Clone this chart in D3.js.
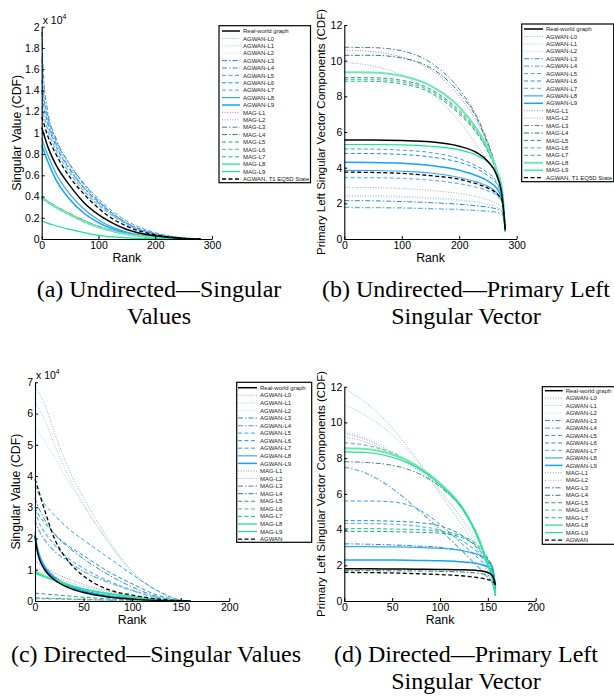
<!DOCTYPE html>
<html>
<head>
<meta charset="utf-8">
<script src="https://cdn.jsdelivr.net/npm/d3@7"></script>
<style>
  body { margin: 0; background: #fff; }
  svg { display: block; }
</style>
</head>
<body>
<div id="fig"></div>
<script>

// legend entries, same order in every panel
var seriesNames = ["Real-world graph", "AGWAN-L0", "AGWAN-L1", "AGWAN-L2", "AGWAN-L3", "AGWAN-L4",
    "AGWAN-L5", "AGWAN-L6", "AGWAN-L7", "AGWAN-L8", "AGWAN-L9", "MAG-L1", "MAG-L2", "MAG-L3",
    "MAG-L4", "MAG-L5", "MAG-L6", "MAG-L7", "MAG-L8", "MAG-L9", "AGWAN, T1 EQ5D State"];
var seriesNamesDirected = seriesNames.slice(0, 20).concat(["AGWAN"]);

// (a) undirected singular values (x 10^4)
var ranksA = [0, 3, 10, 25, 50, 75, 100, 125, 150, 200, 250, 280];
var valuesA = [
    [1.05, 1.0, 0.88, 0.7, 0.5, 0.34, 0.23, 0.15, 0.09, 0.03, 0.005, 0],
    [1.3, 1.25, 1.12, 0.92, 0.68, 0.5, 0.36, 0.24, 0.15, 0.05, 0.01, 0],
    [1.22, 1.18, 1.06, 0.87, 0.64, 0.47, 0.33, 0.22, 0.14, 0.045, 0.008, 0],
    [1.18, 1.13, 1.01, 0.83, 0.61, 0.44, 0.31, 0.21, 0.13, 0.04, 0.007, 0],
    [1.95, 1.55, 1.22, 0.95, 0.7, 0.51, 0.36, 0.24, 0.15, 0.05, 0.01, 0],
    [1.7, 1.4, 1.15, 0.9, 0.66, 0.48, 0.34, 0.23, 0.14, 0.045, 0.008, 0],
    [1.5, 1.35, 1.17, 0.93, 0.7, 0.52, 0.38, 0.26, 0.17, 0.06, 0.01, 0],
    [1.4, 1.28, 1.1, 0.88, 0.65, 0.48, 0.35, 0.24, 0.15, 0.05, 0.009, 0],
    [1.25, 1.18, 1.04, 0.84, 0.62, 0.45, 0.32, 0.22, 0.14, 0.045, 0.008, 0],
    [0.95, 0.9, 0.8, 0.62, 0.42, 0.28, 0.18, 0.11, 0.065, 0.02, 0.003, 0],
    [0.88, 0.84, 0.74, 0.56, 0.37, 0.24, 0.155, 0.095, 0.055, 0.015, 0.002, 0],
    [0.4, 0.39, 0.36, 0.31, 0.24, 0.175, 0.12, 0.08, 0.05, 0.015, 0.002, 0],
    [0.39, 0.38, 0.355, 0.305, 0.235, 0.17, 0.118, 0.078, 0.048, 0.014, 0.002, 0],
    [0.4, 0.39, 0.36, 0.31, 0.24, 0.175, 0.12, 0.08, 0.05, 0.015, 0.002, 0],
    [0.39, 0.38, 0.355, 0.3, 0.23, 0.165, 0.115, 0.075, 0.046, 0.013, 0.002, 0],
    [0.38, 0.37, 0.345, 0.295, 0.225, 0.16, 0.11, 0.072, 0.044, 0.012, 0.002, 0],
    [0.39, 0.38, 0.35, 0.3, 0.23, 0.165, 0.115, 0.075, 0.046, 0.013, 0.002, 0],
    [0.38, 0.37, 0.345, 0.295, 0.225, 0.16, 0.11, 0.072, 0.044, 0.012, 0.002, 0],
    [0.39, 0.38, 0.35, 0.3, 0.23, 0.165, 0.112, 0.074, 0.045, 0.013, 0.002, 0],
    [0.17, 0.165, 0.15, 0.125, 0.09, 0.06, 0.035, 0.02, 0.01, 0.002, 0, 0],
    [1.15, 1.1, 0.98, 0.8, 0.58, 0.42, 0.29, 0.19, 0.12, 0.04, 0.007, 0]
];

// (b) undirected primary left singular vector
var ranksB = [0, 50, 100, 150, 200, 230, 250, 265, 275, 280];
var valuesB = [
    [5.55, 5.55, 5.52, 5.45, 5.2, 4.85, 4.35, 3.6, 2.3, 0.5],
    [2.9, 2.88, 2.83, 2.72, 2.55, 2.38, 2.2, 2.0, 1.7, 0.5],
    [2.45, 2.44, 2.4, 2.32, 2.2, 2.08, 1.95, 1.8, 1.55, 0.5],
    [2.38, 2.37, 2.33, 2.26, 2.15, 2.05, 1.92, 1.78, 1.5, 0.5],
    [2.15, 2.14, 2.1, 2.04, 1.95, 1.86, 1.78, 1.68, 1.5, 0.5],
    [1.77, 1.76, 1.74, 1.7, 1.65, 1.6, 1.55, 1.5, 1.4, 0.5],
    [5.05, 5.04, 4.98, 4.85, 4.5, 4.1, 3.7, 3.2, 2.3, 0.5],
    [4.8, 4.79, 4.74, 4.6, 4.3, 3.95, 3.55, 3.1, 2.2, 0.5],
    [3.45, 3.44, 3.4, 3.3, 3.1, 2.9, 2.7, 2.45, 2.0, 0.5],
    [3.85, 3.84, 3.8, 3.7, 3.45, 3.2, 2.95, 2.6, 2.1, 0.5],
    [4.3, 4.29, 4.25, 4.12, 3.85, 3.55, 3.25, 2.85, 2.2, 0.5],
    [10.6, 10.5, 10.2, 9.5, 8.0, 6.6, 5.3, 3.9, 2.6, 0.4],
    [9.9, 9.7, 9.2, 8.2, 6.6, 5.3, 4.3, 3.5, 2.5, 0.4],
    [10.75, 10.73, 10.55, 9.9, 8.4, 6.9, 5.4, 3.9, 2.6, 0.4],
    [10.3, 10.3, 10.15, 9.6, 8.2, 6.8, 5.3, 3.9, 2.6, 0.4],
    [9.05, 9.04, 8.9, 8.4, 7.2, 6.1, 5.0, 3.8, 2.6, 0.4],
    [8.95, 8.94, 8.8, 8.3, 7.1, 6.0, 4.95, 3.8, 2.6, 0.4],
    [8.85, 8.84, 8.7, 8.2, 7.0, 5.95, 4.9, 3.75, 2.6, 0.4],
    [9.35, 9.34, 9.15, 8.6, 7.4, 6.2, 5.1, 3.9, 2.7, 0.4],
    [5.3, 5.3, 5.28, 5.2, 5.0, 4.7, 4.3, 3.6, 2.4, 0.4],
    [3.75, 3.73, 3.68, 3.55, 3.35, 3.1, 2.85, 2.55, 2.1, 0.6]
];

// (c) directed singular values (x 10^4)
var ranksC = [0, 2, 5, 10, 20, 35, 50, 75, 100, 125, 150, 160];
var valuesC = [
    [2.1, 1.65, 1.3, 1.0, 0.68, 0.42, 0.27, 0.13, 0.06, 0.02, 0.003, 0],
    [6.9, 6.8, 6.6, 6.3, 5.4, 4.2, 3.3, 2.0, 0.95, 0.35, 0.02, 0],
    [6.4, 6.3, 6.1, 5.8, 5.0, 3.95, 3.1, 1.9, 0.9, 0.33, 0.02, 0],
    [5.6, 5.5, 5.35, 5.1, 4.6, 3.8, 3.05, 1.9, 0.95, 0.35, 0.03, 0],
    [3.3, 3.1, 2.9, 2.6, 2.15, 1.7, 1.35, 0.85, 0.45, 0.15, 0.01, 0],
    [2.6, 2.4, 2.2, 1.95, 1.6, 1.25, 0.95, 0.6, 0.33, 0.12, 0.01, 0],
    [3.7, 3.55, 3.35, 3.1, 2.75, 2.3, 1.95, 1.4, 0.85, 0.35, 0.03, 0],
    [3.0, 2.85, 2.7, 2.5, 2.15, 1.75, 1.45, 0.95, 0.55, 0.2, 0.02, 0],
    [2.9, 2.7, 2.45, 2.2, 1.8, 1.35, 1.05, 0.65, 0.35, 0.12, 0.01, 0],
    [2.2, 1.8, 1.45, 1.12, 0.78, 0.5, 0.33, 0.17, 0.08, 0.03, 0.004, 0],
    [2.05, 1.7, 1.38, 1.06, 0.74, 0.48, 0.31, 0.16, 0.075, 0.025, 0.003, 0],
    [1.3, 1.25, 1.18, 1.08, 0.9, 0.7, 0.53, 0.32, 0.16, 0.06, 0.005, 0],
    [1.1, 1.06, 1.0, 0.92, 0.78, 0.6, 0.46, 0.28, 0.14, 0.05, 0.004, 0],
    [0.9, 0.88, 0.84, 0.78, 0.66, 0.5, 0.38, 0.22, 0.11, 0.04, 0.003, 0],
    [0.1, 0.098, 0.095, 0.09, 0.08, 0.065, 0.05, 0.03, 0.015, 0.005, 0, 0],
    [0.25, 0.245, 0.24, 0.225, 0.2, 0.16, 0.12, 0.07, 0.03, 0.01, 0, 0],
    [0.08, 0.078, 0.076, 0.072, 0.065, 0.053, 0.042, 0.025, 0.012, 0.004, 0, 0],
    [0.9, 0.88, 0.85, 0.78, 0.66, 0.5, 0.37, 0.23, 0.12, 0.045, 0.004, 0],
    [0.95, 0.92, 0.88, 0.8, 0.68, 0.52, 0.38, 0.24, 0.13, 0.05, 0.005, 0],
    [0.88, 0.86, 0.83, 0.77, 0.66, 0.51, 0.38, 0.24, 0.13, 0.05, 0.005, 0],
    [3.9, 3.7, 3.4, 2.9, 2.0, 1.25, 0.8, 0.37, 0.19, 0.07, 0.01, 0]
];

// (d) directed primary left singular vector
var ranksD = [0, 25, 50, 75, 100, 125, 140, 150, 155, 158];
var valuesD = [
    [1.8, 1.8, 1.79, 1.78, 1.77, 1.75, 1.7, 1.6, 1.4, 0.9],
    [11.9, 11.0, 9.7, 8.0, 6.0, 4.1, 2.8, 1.5, 0.9, 0.3],
    [11.0, 10.3, 9.3, 7.9, 6.2, 4.4, 3.0, 1.7, 1.0, 0.3],
    [9.5, 9.1, 8.4, 7.4, 6.1, 4.5, 3.2, 1.9, 1.1, 0.3],
    [3.2, 3.18, 3.14, 3.08, 3.0, 2.8, 2.55, 2.2, 1.8, 0.8],
    [7.5, 7.1, 6.3, 5.2, 4.0, 2.7, 1.9, 1.3, 1.0, 0.3],
    [5.6, 5.6, 5.55, 5.2, 4.3, 3.1, 2.4, 1.9, 1.6, 0.5],
    [4.5, 4.5, 4.47, 4.4, 4.2, 3.6, 2.9, 2.2, 1.7, 0.5],
    [4.35, 4.34, 4.3, 4.2, 3.95, 3.3, 2.7, 2.1, 1.6, 0.5],
    [3.05, 3.05, 3.03, 3.0, 2.95, 2.8, 2.6, 2.3, 1.9, 0.8],
    [2.3, 2.3, 2.29, 2.27, 2.25, 2.18, 2.08, 1.9, 1.7, 0.8],
    [9.4, 9.0, 8.3, 7.5, 6.5, 5.0, 3.6, 2.1, 1.3, 0.3],
    [9.2, 8.85, 8.2, 7.4, 6.4, 5.0, 3.6, 2.1, 1.3, 0.3],
    [7.8, 7.75, 7.6, 7.2, 6.4, 5.0, 3.5, 2.0, 1.2, 0.3],
    [1.7, 1.7, 1.69, 1.68, 1.66, 1.62, 1.55, 1.45, 1.3, 0.8],
    [3.9, 3.9, 3.88, 3.85, 3.8, 3.5, 3.0, 2.3, 1.7, 0.4],
    [8.85, 8.7, 8.3, 7.6, 6.6, 5.1, 3.6, 2.1, 1.3, 0.3],
    [4.05, 4.05, 4.03, 4.0, 3.9, 3.6, 3.1, 2.4, 1.8, 0.4],
    [8.55, 8.5, 8.2, 7.6, 6.6, 5.1, 3.5, 2.0, 1.2, 0.3],
    [8.35, 8.3, 8.05, 7.5, 6.5, 5.05, 3.5, 2.0, 1.2, 0.3],
    [1.6, 1.59, 1.57, 1.53, 1.48, 1.4, 1.3, 1.2, 1.1, 0.9]
];

var xTicks300 = [0, 100, 200, 300];
var xTicks200 = [0, 50, 100, 150, 200];
var yTicksA = [0, 0.2, 0.4, 0.6, 0.8, 1, 1.2, 1.4, 1.6, 1.8, 2];
var yTicksC = [0, 1, 2, 3, 4, 5, 6, 7];
var yTicksVec = [0, 2, 4, 6, 8, 10, 12];

// line styles (legend order)
var dot = "1,1.6", dashdot = "5,2,1.5,2", dash = "4,2.5";
var styles = [
    { c: "#000000", w: 1.5, d: null },
    { c: "#8fb4cc", w: 1, d: dot },
    { c: "#a4c4dc", w: 1, d: dot },
    { c: "#b8d4e8", w: 1, d: dot },
    { c: "#2a88c8", w: 1, d: dashdot },
    { c: "#6ab4e0", w: 1.3, d: dashdot },
    { c: "#3a9ee8", w: 1, d: dash },
    { c: "#1a90e0", w: 1, d: dash },
    { c: "#6cbcf0", w: 1.3, d: dash },
    { c: "#38a8f4", w: 1.2, d: null },
    { c: "#10a4ff", w: 1.5, d: null },
    { c: "#8c8cb0", w: 1, d: dot },
    { c: "#a8a4cc", w: 1, d: dot },
    { c: "#4f7e98", w: 1, d: dashdot },
    { c: "#2a7c7c", w: 1, d: dashdot },
    { c: "#22a07c", w: 1, d: dash },
    { c: "#6ccaa8", w: 1.3, d: dash },
    { c: "#10c080", w: 1, d: dash },
    { c: "#70e8b0", w: 2, d: null },
    { c: "#10e890", w: 1.2, d: null },
    { c: "#000000", w: 1.3, d: dash }
];

var sans = "'Liberation Sans', Arial, Helvetica, sans-serif";
var serif = "'Liberation Serif', 'Times New Roman', serif";

var svg = d3.select("#fig").append("svg")
    .attr("width", 614)
    .attr("height", 697);

var panels = [
    { ranks: ranksA, values: valuesA, names: seriesNames, xMax: 300, xTicks: xTicks300, yMax: 2, yTicks: yTicksA,
      l: 41.7, r: 212, t: 26.7, b: 239, exp: true, ylabel: "Singular Value (CDF)", ylx: 18, yls: 12.3,
      leg: { x: 219, y: 25.7, w: 91.5, h: 157, lx: 222, tx: 243, ry: 31, dy: 7.4 } },
    { ranks: ranksB, values: valuesB, names: seriesNames, xMax: 300, xTicks: xTicks300, yMax: 12, yTicks: yTicksVec,
      l: 344.3, r: 516.7, t: 25, b: 239, exp: false, ylabel: "Primary Left Singular Vector Components (CDF)", ylx: 322, yls: 11.5,
      leg: { x: 521.7, y: 24, w: 92, h: 157.7, lx: 524, tx: 546, ry: 29, dy: 7.43 } },
    { ranks: ranksC, values: valuesC, names: seriesNamesDirected, xMax: 200, xTicks: xTicks200, yMax: 7, yTicks: yTicksC,
      l: 35, r: 229.3, t: 382.3, b: 601, exp: true, ylabel: "Singular Value (CDF)", ylx: 17, yls: 12.3,
      leg: { x: 236.7, y: 382.3, w: 75, h: 160, lx: 238, tx: 260, ry: 387.7, dy: 7.57 } },
    { ranks: ranksD, values: valuesD, names: seriesNamesDirected, xMax: 200, xTicks: xTicks200, yMax: 12, yTicks: yTicksVec,
      l: 344.3, r: 535.7, t: 386.7, b: 601, exp: false, ylabel: "Primary Left Singular Vector Components (CDF)", ylx: 322, yls: 11.5,
      leg: { x: 542.3, y: 386.7, w: 74, h: 157.6, lx: 545, tx: 565.7, ry: 390.7, dy: 7.47 } }
];

// draw order: everything, then the two black references on top
var drawOrder = d3.range(1, 20).concat([20, 0]);

panels.forEach(function (p) {
    var x = d3.scaleLinear().domain([0, p.xMax]).range([p.l, p.r]);
    var y = d3.scaleLinear().domain([0, p.yMax]).range([p.b, p.t]);

    var line = d3.line()
        .x(function (d, i) { return x(p.ranks[i]); })
        .y(function (d) { return y(d); })
        .curve(d3.curveMonotoneX);

    var g = svg.append("g");
    drawOrder.forEach(function (k) {
        var s = styles[k];
        g.append("path")
            .attr("d", line(p.values[k]))
            .attr("fill", "none")
            .attr("stroke", s.c)
            .attr("stroke-width", s.w)
            .attr("stroke-dasharray", s.d);
    });

    // axes, matlab style: ticks inward
    var xAxis = svg.append("g")
        .attr("transform", "translate(0," + p.b + ")")
        .call(d3.axisBottom(x).tickValues(p.xTicks).tickSizeInner(-3).tickSizeOuter(0).tickPadding(3));
    var yAxis = svg.append("g")
        .attr("transform", "translate(" + p.l + ",0)")
        .call(d3.axisLeft(y).tickValues(p.yTicks).tickSizeInner(-3).tickSizeOuter(0).tickPadding(2)
            .tickFormat(function (d) { return String(+d.toFixed(1)); }));
    [xAxis, yAxis].forEach(function (a) {
        a.attr("font-family", sans).attr("font-size", 10.5);
        a.select(".domain").attr("stroke-width", 1.1);
        a.selectAll("text").attr("fill", "#000");
    });

    if (p.exp) {
        var e = svg.append("text")
            .attr("x", p.l + 1)
            .attr("y", p.t - 3)
            .attr("font-family", sans)
            .attr("font-size", 10.5)
            .text("x 10");
        e.append("tspan").attr("dy", -5).attr("font-size", 7).text("4");
    }

    svg.append("text")
        .attr("x", (p.l + p.r) / 2)
        .attr("y", p.b + 23)
        .attr("text-anchor", "middle")
        .attr("font-family", sans)
        .attr("font-size", 12.3)
        .text("Rank");

    svg.append("text")
        .attr("transform", "translate(" + p.ylx + "," + ((p.t + p.b) / 2) + ") rotate(-90)")
        .attr("text-anchor", "middle")
        .attr("dominant-baseline", "middle")
        .attr("font-family", sans)
        .attr("font-size", p.yls)
        .text(p.ylabel);

    // legend
    var L = p.leg;
    var lg = svg.append("g");
    lg.append("rect")
        .attr("x", L.x).attr("y", L.y).attr("width", L.w).attr("height", L.h)
        .attr("fill", "#fff").attr("stroke", "#000").attr("stroke-width", 1.2);
    p.names.forEach(function (name, k) {
        var s = styles[k];
        var yy = L.ry + k * L.dy;
        lg.append("line")
            .attr("x1", L.lx).attr("x2", L.tx - 3)
            .attr("y1", yy).attr("y2", yy)
            .attr("stroke", s.c)
            .attr("stroke-width", s.w)
            .attr("stroke-dasharray", s.d);
        lg.append("text")
            .attr("x", L.tx)
            .attr("y", yy)
            .attr("dy", "0.35em")
            .attr("font-family", sans)
            .attr("font-size", 6)
            .attr("fill", "#222")
            .text(name);
    });
});

// sub-figure captions
var captions = [
    { x: 159, y: 297, t: "(a) Undirected\u2014Singular" },
    { x: 159, y: 324, t: "Values" },
    { x: 466, y: 297, t: "(b) Undirected\u2014Primary Left" },
    { x: 466, y: 324, t: "Singular Vector" },
    { x: 156, y: 662, t: "(c) Directed\u2014Singular Values" },
    { x: 466, y: 662, t: "(d) Directed\u2014Primary Left" },
    { x: 466, y: 689, t: "Singular Vector" }
];
svg.selectAll("text.cap")
    .data(captions)
    .enter()
    .append("text")
    .attr("class", "cap")
    .attr("x", function (d) { return d.x; })
    .attr("y", function (d) { return d.y; })
    .attr("text-anchor", "middle")
    .attr("font-family", serif)
    .attr("font-size", 24)
    .text(function (d) { return d.t; });
</script>
</body>
</html>
